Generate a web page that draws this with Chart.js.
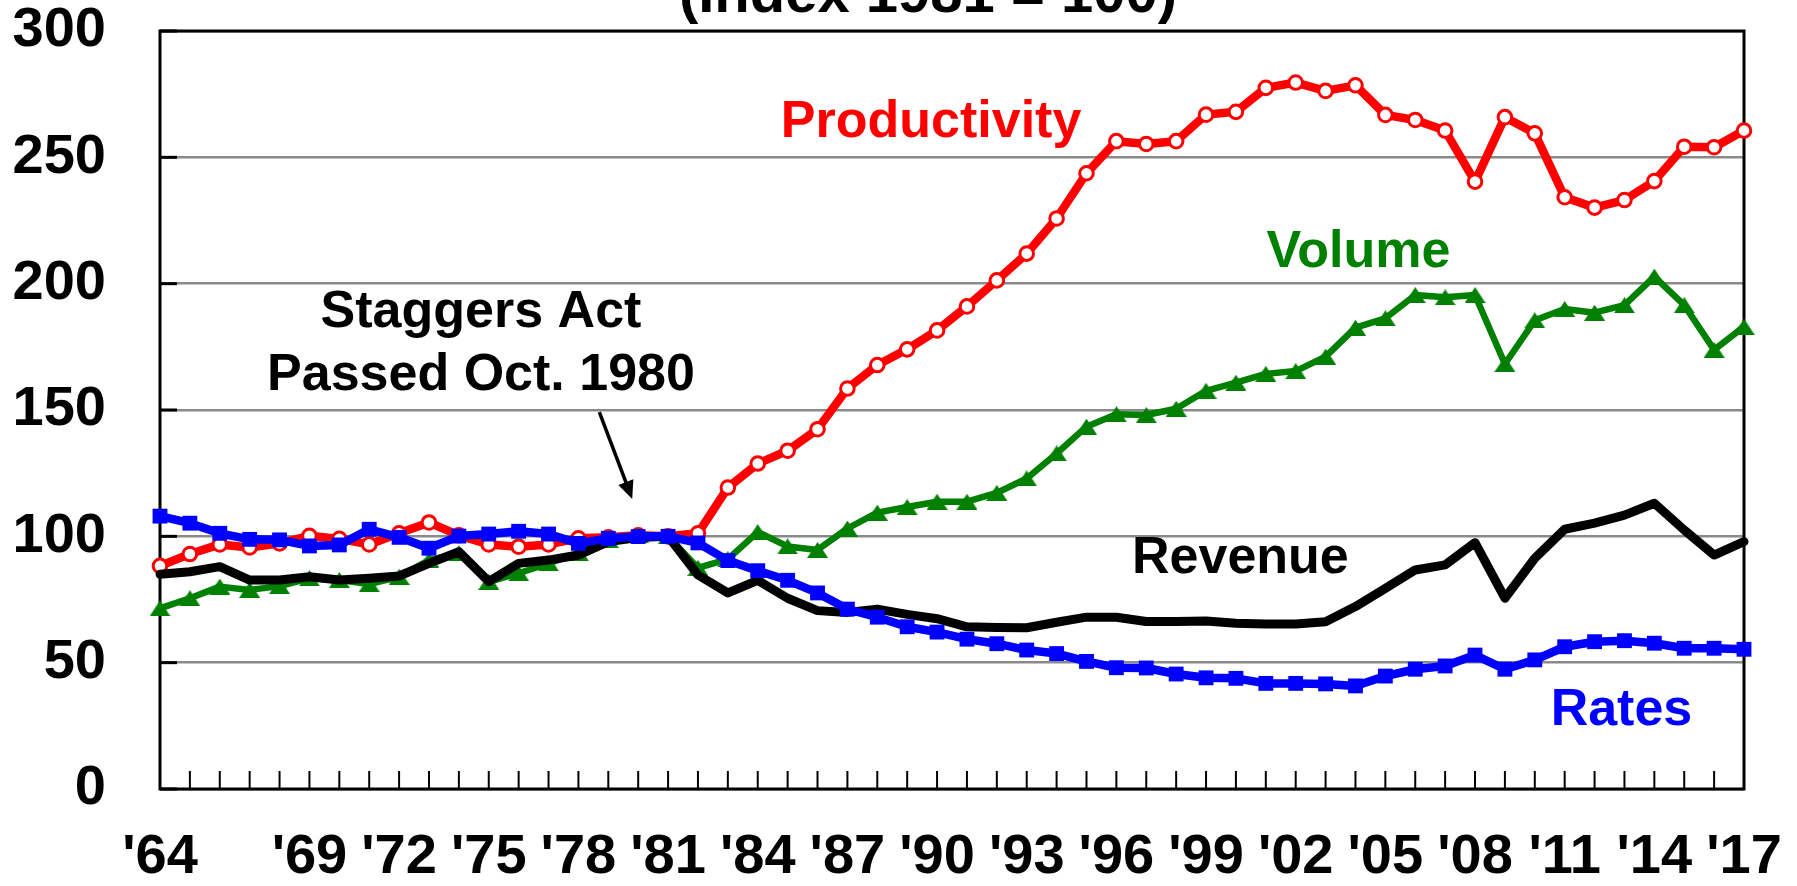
<!DOCTYPE html>
<html>
<head>
<meta charset="utf-8">
<script src="https://cdn.jsdelivr.net/npm/chart.js@4/dist/chart.umd.min.js"></script>
<style>
  html, body { margin: 0; padding: 0; background: #fff; }
  #wrap { width: 1797px; height: 886px; position: relative; }
</style>
</head>
<body>
<div id="wrap"><canvas id="railChart"></canvas></div>
<script>
// Годы по оси X
const years = [1964, 1965, 1966, 1967, 1968, 1969, 1970, 1971, 1972, 1973,
  1974, 1975, 1976, 1977, 1978, 1979, 1980, 1981, 1982, 1983,
  1984, 1985, 1986, 1987, 1988, 1989, 1990, 1991, 1992, 1993,
  1994, 1995, 1996, 1997, 1998, 1999, 2000, 2001, 2002, 2003,
  2004, 2005, 2006, 2007, 2008, 2009, 2010, 2011, 2012, 2013,
  2014, 2015, 2016, 2017];

// Подписанные годы
const labeledYears = [1964, 1969, 1972, 1975, 1978, 1981, 1984, 1987, 1990, 1993,
  1996, 1999, 2002, 2005, 2008, 2011, 2014, 2017];

const yTicks = [0, 50, 100, 150, 200, 250, 300];

// Индекс 1981 = 100
const productivity = [88.3, 93.0, 96.8, 95.6, 97.2, 100.2, 99.0, 96.8, 101.2, 105.5,
  100.4, 96.8, 95.9, 96.8, 99.2, 99.6, 100.4, 100.0, 101.2, 119.3,
  128.8, 133.9, 142.4, 158.5, 167.8, 174.0, 181.5, 191.0, 201.3, 211.9,
  225.8, 243.7, 256.4, 255.3, 256.4, 266.9, 268.0, 277.5, 279.6, 276.3,
  278.5, 266.8, 264.8, 260.6, 240.4, 265.9, 259.5, 234.2, 230.1, 233.1,
  240.6, 254.2, 254.0, 260.6];

const volume = [71.5, 75.5, 80.1, 78.8, 80.3, 83.4, 82.7, 81.1, 84.0, 90.6,
  93.3, 82.0, 85.4, 89.3, 93.3, 98.5, 100.5, 100.0, 87.5, 91.0,
  101.7, 96.0, 94.6, 103.1, 109.4, 111.6, 113.7, 113.7, 117.2, 122.9,
  132.8, 143.4, 148.3, 148.0, 150.5, 157.6, 160.8, 164.3, 165.4, 171.1,
  182.6, 186.3, 195.5, 194.6, 195.5, 168.2, 185.5, 190.0, 188.5, 191.5,
  202.8, 191.5, 173.8, 183.0];

const revenue = [85.0, 86.0, 88.0, 82.7, 82.7, 84.0, 82.7, 83.4, 84.3, 89.3,
  93.9, 82.1, 89.3, 90.6, 92.6, 97.9, 99.5, 100.0, 84.7, 77.6,
  82.6, 75.5, 70.6, 69.9, 71.2, 69.1, 67.4, 64.2, 63.9, 63.8,
  66.0, 68.0, 68.0, 66.3, 66.3, 66.5, 65.6, 65.3, 65.3, 66.2,
  72.2, 79.4, 86.7, 88.7, 97.5, 75.5, 91.3, 102.8, 105.2, 108.4,
  113.1, 102.5, 92.6, 97.9];

const rates = [108.0, 105.2, 101.2, 98.8, 98.6, 96.2, 96.6, 102.8, 99.6, 95.3,
  100.1, 100.9, 102.0, 100.9, 97.2, 99.2, 99.9, 100.0, 97.4, 90.4,
  86.4, 82.6, 77.6, 71.2, 68.0, 64.2, 62.1, 59.3, 57.5, 55.0,
  53.6, 50.5, 48.0, 47.9, 45.5, 44.0, 43.8, 41.8, 41.8, 41.6,
  40.8, 44.7, 47.4, 48.7, 53.0, 47.4, 51.1, 56.3, 58.3, 58.7,
  57.7, 55.7, 55.7, 55.3];

const FONT = "'Liberation Sans', Arial, sans-serif";

// Подписи на графике (x — индекс года, y — значение)
const notes = [
  { text: 'Productivity', color: '#ff0000', x: 25.8, y: 258 },
  { text: 'Volume', color: '#008000', x: 40.1, y: 206.6 },
  { text: 'Revenue', color: '#000000', x: 36.15, y: 85.5 },
  { text: 'Rates', color: '#0000ff', x: 48.9, y: 25.3 },
  { text: 'Staggers Act', color: '#000000', x: 10.74, y: 182.9 },
  { text: 'Passed Oct. 1980', color: '#000000', x: 10.74, y: 157.9 }
];

// Треугольный маркер, шире чем выше
function triangleMarker(color, w, h) {
  const c = document.createElement('canvas');
  c.width = w; c.height = h;
  const g = c.getContext('2d');
  g.fillStyle = color;
  g.beginPath();
  g.moveTo(w / 2, 0);
  g.lineTo(w, h);
  g.lineTo(0, h);
  g.closePath();
  g.fill();
  return c;
}

// Рамка, внутренние засечки, стрелка и подписи
const decorPlugin = {
  id: 'decor',
  beforeDatasetsDraw(chart) {
    const { ctx, chartArea: a, scales } = chart;
    ctx.save();
    ctx.strokeStyle = '#000';
    ctx.lineWidth = 2;
    years.forEach((yr, i) => {
      const px = scales.x.getPixelForValue(i);
      ctx.beginPath();
      ctx.moveTo(px, a.bottom);
      ctx.lineTo(px, a.bottom - 18);
      ctx.stroke();
    });
    ctx.lineWidth = 3;
    yTicks.forEach(v => {
      const py = scales.y.getPixelForValue(v);
      ctx.beginPath();
      ctx.moveTo(a.left, py);
      ctx.lineTo(a.left + 17, py);
      ctx.stroke();
    });
    ctx.lineWidth = 3;
    ctx.strokeRect(a.left, a.top, a.right - a.left, a.bottom - a.top);
    ctx.restore();
  },
  afterDatasetsDraw(chart) {
    const { ctx, scales } = chart;
    const X = v => scales.x.getPixelForValue(v);
    const Y = v => scales.y.getPixelForValue(v);
    ctx.save();

    // стрелка к 1980
    const x1 = X(14.7), y1 = Y(149.2), x2 = X(15.8), y2 = Y(114.8);
    const ang = Math.atan2(y2 - y1, x2 - x1);
    ctx.strokeStyle = '#000';
    ctx.lineWidth = 3.5;
    ctx.beginPath();
    ctx.moveTo(x1, y1);
    ctx.lineTo(x2 - 12 * Math.cos(ang), y2 - 12 * Math.sin(ang));
    ctx.stroke();
    ctx.fillStyle = '#000';
    ctx.beginPath();
    ctx.moveTo(x2, y2);
    ctx.lineTo(x2 - 18 * Math.cos(ang) + 8 * Math.sin(ang), y2 - 18 * Math.sin(ang) - 8 * Math.cos(ang));
    ctx.lineTo(x2 - 18 * Math.cos(ang) - 8 * Math.sin(ang), y2 - 18 * Math.sin(ang) + 8 * Math.cos(ang));
    ctx.closePath();
    ctx.fill();

    ctx.font = 'bold 52px ' + FONT;
    ctx.textAlign = 'center';
    ctx.textBaseline = 'alphabetic';
    notes.forEach(n => {
      ctx.fillStyle = n.color;
      ctx.fillText(n.text, X(n.x), Y(n.y));
    });

    // обрезанный заголовок сверху
    ctx.font = 'bold 58px ' + FONT;
    ctx.fillStyle = '#000';
    ctx.fillText('(Index 1981 = 100)', 928, 12);
    ctx.restore();
  }
};

const ctx = document.getElementById('railChart').getContext('2d');
new Chart(ctx, {
  type: 'line',
  data: {
    labels: years,
    datasets: [
      {
        label: 'Rates',
        data: rates,
        order: 1,
        borderColor: '#0000ff',
        backgroundColor: '#0000ff',
        borderWidth: 8.5,
        pointStyle: 'rect',
        pointRadius: 10.5,
        pointBorderWidth: 0,
        pointBackgroundColor: '#0000ff'
      },
      {
        label: 'Revenue',
        data: revenue,
        order: 2,
        borderColor: '#000000',
        borderWidth: 9,
        pointRadius: 0
      },
      {
        label: 'Volume',
        data: volume,
        order: 3,
        borderColor: '#008000',
        backgroundColor: '#008000',
        borderWidth: 6.5,
        pointStyle: triangleMarker('#008000', 21, 16),
        pointRadius: 10
      },
      {
        label: 'Productivity',
        data: productivity,
        order: 4,
        borderColor: '#ff0000',
        borderWidth: 8.5,
        pointStyle: 'circle',
        pointRadius: 6.8,
        pointBorderWidth: 3,
        pointBorderColor: '#ff0000',
        pointBackgroundColor: '#ffffff'
      }
    ]
  },
  options: {
    responsive: true,
    maintainAspectRatio: false,
    animation: false,
    devicePixelRatio: 1,
    layout: { padding: { top: 31, right: 53, left: 0, bottom: 0 } },
    elements: {
      line: { tension: 0, borderJoinStyle: 'round', borderCapStyle: 'round', fill: false },
      point: { hoverRadius: 0 }
    },
    datasets: { line: { clip: false } },
    plugins: {
      legend: { display: false },
      tooltip: { enabled: false },
      title: { display: false }
    },
    scales: {
      x: {
        type: 'category',
        offset: false,
        grid: { display: false, drawTicks: false },
        border: { display: false },
        afterFit: s => { s.height = 97; s.paddingLeft = 0; s.paddingRight = 0; },
        ticks: {
          autoSkip: false,
          maxRotation: 0,
          minRotation: 0,
          padding: 35,
          color: '#000',
          font: { family: FONT, size: 56, weight: 'bold' },
          callback: (val, i) => labeledYears.includes(years[i]) ? "'" + String(years[i]).slice(2) : ''
        }
      },
      y: {
        min: 0,
        max: 300,
        afterFit: s => { s.width = 160; s.paddingTop = 0; s.paddingBottom = 0; },
        afterBuildTicks: s => { s.ticks = yTicks.map(v => ({ value: v })); },
        grid: { color: '#8a8a8a', lineWidth: 2.5, drawTicks: false },
        border: { display: false },
        ticks: {
          padding: 54,
          color: '#000',
          font: { family: FONT, size: 56, weight: 'bold' }
        }
      }
    }
  },
  plugins: [decorPlugin]
});
</script>
</body>
</html>
